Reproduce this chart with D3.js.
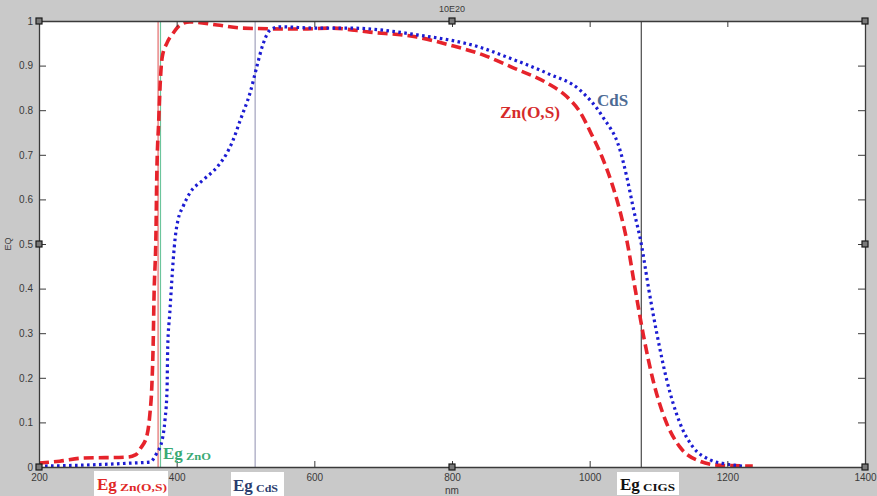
<!DOCTYPE html>
<html><head><meta charset="utf-8">
<script src="https://cdn.jsdelivr.net/npm/d3@7"></script>
<style>body{margin:0;background:#c9c9c9;} svg{display:block}</style>
</head><body><svg id="c" width="877" height="496"></svg>
<script>
const xTicks = [200, 400, 600, 800, 1000, 1200, 1400];
const yTicks = [0, 0.1, 0.2, 0.3, 0.4, 0.5, 0.6, 0.7, 0.8, 0.9, 1];

// Zn(O,S) buffer EQE (red dashed)
const znosNm = [200,230,264,328,340,348,357,361,364,366,367,370,371,374,376,379,386,395,405,419,459,496,579,623,681,749,797,845,889,938,967,986,1003,1018,1032,1044,1055,1066,1078,1092,1110,1131,1160,1189,1237];
const znosEq = [0.009,0.013,0.020,0.022,0.027,0.043,0.072,0.117,0.184,0.285,0.374,0.531,0.643,0.778,0.857,0.919,0.951,0.973,0.991,0.998,0.991,0.984,0.982,0.984,0.975,0.964,0.946,0.924,0.895,0.861,0.830,0.796,0.745,0.695,0.637,0.574,0.500,0.400,0.296,0.195,0.105,0.045,0.013,0.004,0.002];

// CdS buffer EQE (blue dotted)
const cdsNm = [200,260,337,361,371,379,383,386,387,390,393,395,398,402,409,419,438,459,473,482,492,507,517,525,536,550,604,652,749,845,880,938,986,1019,1044,1054,1064,1075,1086,1098,1112,1131,1150,1175,1197,1223];
const cdsEq = [0.002,0.004,0.009,0.011,0.031,0.061,0.105,0.173,0.269,0.345,0.419,0.464,0.516,0.554,0.583,0.614,0.643,0.673,0.704,0.733,0.776,0.841,0.901,0.946,0.980,0.987,0.984,0.984,0.969,0.939,0.919,0.883,0.845,0.785,0.711,0.650,0.576,0.500,0.397,0.296,0.195,0.099,0.045,0.016,0.007,0.002];

// band-gap markers
const gapNames = ["Zn(O,S)", "ZnO", "CdS", "CIGS"];
const gapNm = [373, 376.5, 514, 1075];
const gapColors = ["#e36a6a", "#6cc59c", "#a2a2bc", "#4a4a4a"];

const svg = d3.select("#c");
const L = 39, R = 865, T = 21, B = 467;
const x = d3.scaleLinear().domain([200, 1400]).range([L, R]);
const y = d3.scaleLinear().domain([0, 1]).range([B, T]);

svg.append("rect").attr("x", L).attr("y", T).attr("width", R - L).attr("height", B - T).attr("fill", "#fff");

svg.append("defs").append("clipPath").attr("id", "clip")
  .append("rect").attr("x", L).attr("y", T).attr("width", R - L).attr("height", B - T);

// vertical band-gap lines
svg.append("g").selectAll("line").data(gapNm).join("line")
  .attr("x1", d => x(d)).attr("x2", d => x(d))
  .attr("y1", T).attr("y2", B)
  .attr("stroke", (d, i) => gapColors[i]).attr("stroke-width", 1.2);

const line = d3.line().x(d => x(d[0])).y(d => y(d[1])).curve(d3.curveMonotoneX);
const g = svg.append("g").attr("clip-path", "url(#clip)");

g.append("path").datum(d3.zip(znosNm, znosEq)).attr("d", line)
  .attr("fill", "none").attr("stroke", "#e6232b").attr("stroke-width", 3.6)
  .attr("stroke-dasharray", "10 5");
g.append("path").datum(d3.zip(cdsNm, cdsEq)).attr("d", line)
  .attr("fill", "none").attr("stroke", "#1c1cd2").attr("stroke-width", 3.2)
  .attr("stroke-dasharray", "2.6 3.4");

// axes
const tickFont = "'Liberation Sans', Arial, sans-serif";
function styleAxis(sel) {
  sel.selectAll(".domain").attr("stroke", "#3a3a3a").attr("stroke-width", 1.3);
  sel.selectAll(".tick line").attr("stroke", "#3a3a3a");
  sel.selectAll("text").attr("fill", "#3a3a3a").attr("font-family", tickFont).attr("font-size", 10);
}
svg.append("g").attr("transform", `translate(0,${B})`)
  .call(d3.axisBottom(x).tickValues(xTicks).tickSizeInner(-6).tickSizeOuter(0).tickPadding(7).tickFormat(d => String(d)))
  .call(styleAxis);
svg.append("g").attr("transform", `translate(0,${T})`)
  .call(d3.axisTop(x).tickValues(xTicks).tickSizeInner(-6).tickSizeOuter(0).tickFormat(""))
  .call(styleAxis);
svg.append("g").attr("transform", `translate(${L},0)`)
  .call(d3.axisLeft(y).tickValues(yTicks).tickSizeInner(-7).tickSizeOuter(0).tickPadding(6).tickFormat(d => String(d)))
  .call(styleAxis);
svg.append("g").attr("transform", `translate(${R},0)`)
  .call(d3.axisRight(y).tickValues(yTicks).tickSizeInner(-7).tickSizeOuter(0).tickFormat(""))
  .call(styleAxis);

// axis titles
svg.append("text").attr("x", (L + R) / 2).attr("y", 12).attr("text-anchor", "middle")
  .attr("font-family", tickFont).attr("font-size", 9).attr("fill", "#3a3a3a").text("10E20");
svg.append("text").attr("x", (L + R) / 2).attr("y", 494).attr("text-anchor", "middle")
  .attr("font-family", tickFont).attr("font-size", 10).attr("fill", "#3a3a3a").text("nm");
svg.append("text").attr("transform", "translate(11,244) rotate(-90)").attr("text-anchor", "middle")
  .attr("font-family", tickFont).attr("font-size", 9).attr("fill", "#3a3a3a").text("EQ");

// selection handles
const hx = [L, (L + R) / 2, R], hy = [T, (T + B) / 2, B];
const handles = [];
hx.forEach(a => hy.forEach(b => { if (!(a !== L && a !== R && b === (T + B) / 2)) handles.push([a, b]); }));
svg.append("g").selectAll("rect").data(handles).join("rect")
  .attr("x", d => d[0] - 3).attr("y", d => d[1] - 3).attr("width", 6).attr("height", 6)
  .attr("fill", "#7a7a7a").attr("stroke", "#1a1a1a").attr("stroke-width", 1.2);

// band-gap labels
const serif = "'Liberation Serif', 'Times New Roman', serif";
const gapLabels = [
  {i: 0, ex: 97, by: 490, subW: 47, col: "#e02828", box: [94, 471, 74, 25]},
  {i: 1, ex: 163, by: 459, subW: 25, col: "#3aaa74", box: null},
  {i: 2, ex: 233, by: 491, subW: 22, col: "#2b3d6e", box: [231, 472, 53, 24]},
  {i: 3, ex: 620, by: 490, subW: 32, col: "#111", box: [617, 472, 62, 23]}
];
gapLabels.forEach(o => {
  if (o.box) svg.append("rect").attr("x", o.box[0]).attr("y", o.box[1]).attr("width", o.box[2]).attr("height", o.box[3]).attr("fill", "#fff");
  svg.append("text").attr("x", o.ex).attr("y", o.by).attr("font-family", serif).attr("font-weight", "bold")
    .attr("font-size", 17).attr("fill", o.col).text("Eg");
  svg.append("text").attr("x", o.ex + 23).attr("y", o.by + 1).attr("font-family", serif).attr("font-weight", "bold")
    .attr("font-size", 11).attr("fill", o.col)
    .attr("textLength", o.subW).attr("lengthAdjust", "spacingAndGlyphs")
    .text(gapNames[o.i]);
});

// curve labels
svg.append("text").attr("x", 597).attr("y", 106).attr("font-family", serif).attr("font-weight", "bold")
  .attr("font-size", 17).attr("fill", "#4d6b94").text("CdS");
svg.append("text").attr("x", 500).attr("y", 118).attr("font-family", serif).attr("font-weight", "bold")
  .attr("font-size", 16).attr("fill", "#d62a2a").attr("textLength", 60).attr("lengthAdjust", "spacingAndGlyphs").text("Zn(O,S)");
</script></body></html>
